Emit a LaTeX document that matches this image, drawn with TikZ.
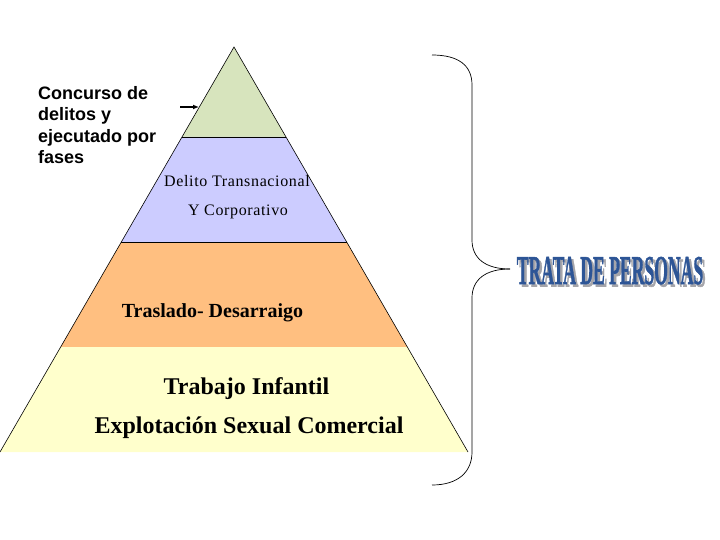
\documentclass[tikz,border=0pt]{standalone}
\usepackage{fontspec}
\setmainfont{Liberation Serif}
\newfontfamily\arialfont{Liberation Sans}
\newfontfamily\spacedserif[LetterSpace=4]{Liberation Serif}
\newfontfamily\wafont[BoldFeatures={FakeBold=1.6}]{Liberation Serif}
\usetikzlibrary{arrows.meta}
\definecolor{lgreen}{RGB}{215,228,189}
\definecolor{lblue}{RGB}{204,204,255}
\definecolor{lorange}{RGB}{255,191,128}
\definecolor{lyellow}{RGB}{255,255,204}
\definecolor{wablue}{RGB}{45,85,150}
\definecolor{wagray}{RGB}{165,165,170}
\newcommand{\watext}{\scalebox{0.43}[1]{TRATA DE PERSONAS}}
\tikzset{
  edge/.style={draw=black, line width=0.6pt},
  lbl/.style={inner sep=0pt, anchor=base, text=black},
}
\begin{document}
\begin{tikzpicture}[x=1pt,y=-1pt]
\useasboundingbox (0,0) rectangle (720,540);
% layers
\fill[lgreen]  (234,47) -- (182,137) -- (286,137) -- cycle;
\fill[lblue]   (182,137) -- (121.3,242) -- (346.7,242) -- (286,137) -- cycle;
\fill[lorange] (121.3,242) -- (60.6,347) -- (407.4,347) -- (346.7,242) -- cycle;
\fill[lyellow] (60.6,347) -- (0,452) -- (468,452) -- (407.4,347) -- cycle;
% outline
\draw[edge] (0,452) -- (234,47) -- (468,452);
\draw[edge] (182,137) -- (286,137);
\draw[edge] (121.3,242) -- (346.7,242);
% texts in pyramid
\node[lbl, font=\spacedserif\fontsize{16}{19}\selectfont] (delito) at (237,187) {Delito Transnacional};
\node[lbl, font=\spacedserif\fontsize{16}{19}\selectfont] (corp) at (238,215) {Y Corporativo};
\node[lbl, font=\bfseries\fontsize{20}{24}\selectfont] (traslado) at (212.5,317) {Traslado- Desarraigo};
\node[lbl, font=\bfseries\fontsize{24}{28}\selectfont] (trabajo) at (246.5,394) {Trabajo Infantil};
\node[lbl, font=\bfseries\fontsize{24}{28}\selectfont] (explot) at (249,433) {Explotación Sexual Comercial};
% left note
\node[inner sep=0pt, anchor=north west, align=left, font=\arialfont\bfseries\fontsize{18}{21.5}\selectfont] (concurso) at (38,86)
  {Concurso de\\delitos y\\ejecutado por\\fases};
\coordinate (arrS) at (180,107);
\coordinate (arrE) at (199,107);
\draw[line width=1.2pt, -{Latex[length=6pt,width=5pt]}] (arrS) -- (arrE);
% brace
\draw[line width=0.7pt] (432,55) .. controls (458,55) and (472,65) .. (472,85) -- (472,240)
  .. controls (472,258) and (485,269) .. (510,269);
\draw[line width=0.7pt] (510,269) .. controls (485,269) and (472,280) .. (472,298) -- (472,452)
  .. controls (472,472) and (458,485) .. (432,485);
% WordArt title with shadow, as one text
\node[lbl, font=\wafont\bfseries\fontsize{41}{42}\selectfont] (title) at (610,284)
  {\rlap{\raisebox{-2.5pt}{\hspace{2.5pt}\textcolor{wagray}{\watext}}}\textcolor{wablue}{\watext}};
\end{tikzpicture}
\end{document}
